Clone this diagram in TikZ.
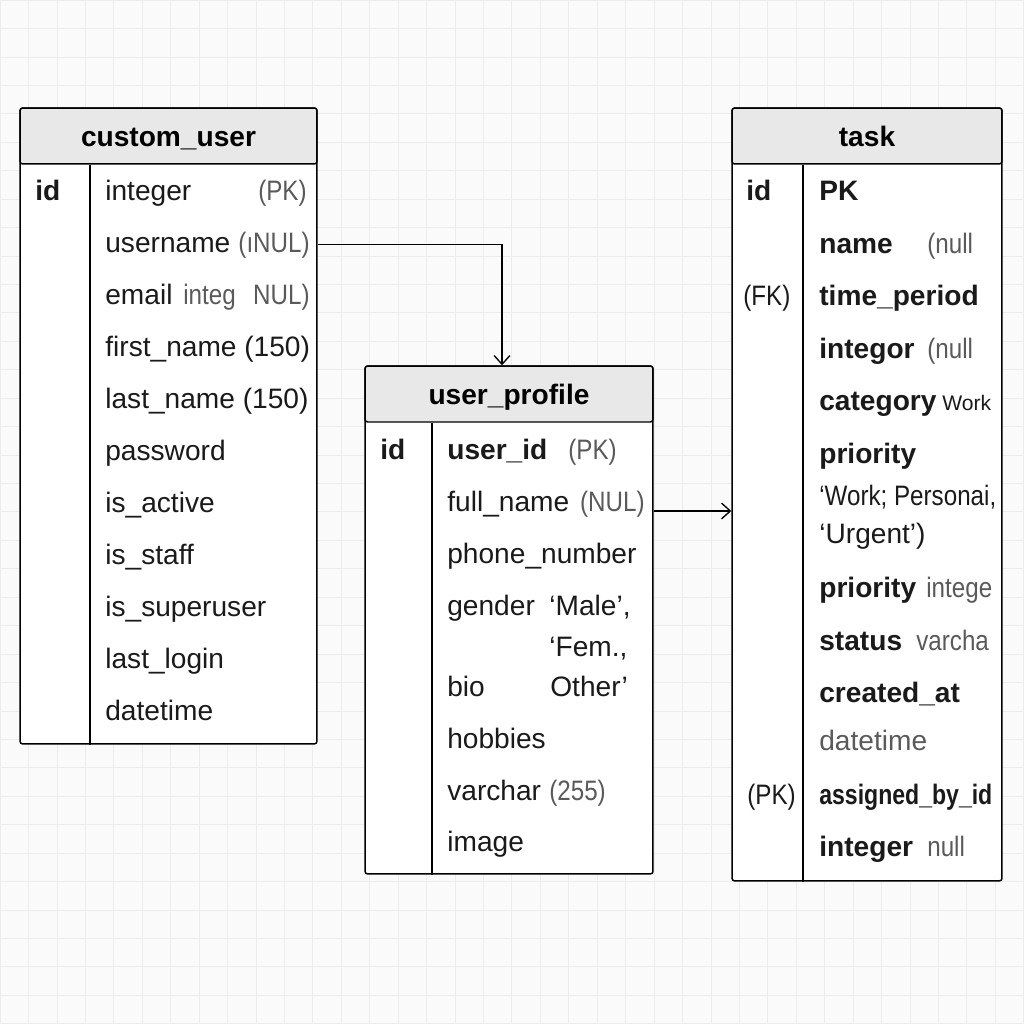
\documentclass[tikz,border=0pt]{standalone}
\usepackage{fontspec}
\setmainfont{Liberation Sans}
\newfontfamily\narrowfont[FakeStretch = 0.86]{Liberation Sans}
\usepackage{graphicx}
\usetikzlibrary{arrows.meta}
\definecolor{bgpaper}{HTML}{FAFAFA}
\definecolor{gridline}{HTML}{ECECEC}
\definecolor{headfill}{HTML}{E8E8E8}
\definecolor{rowink}{HTML}{1A1A1A}
\definecolor{softink}{HTML}{5A5A5A}
\tikzset{
  tablebox/.style = {draw, line width = 0.85pt, fill = white, rounded corners = 1.5pt, inner sep = 0pt},
  tablehead/.style = {tablebox, fill = headfill, minimum height = 1.12cm,
    text height = 12pt, text depth = 0pt, font = \fontsize{16}{19}\selectfont\bfseries},
  rowtext/.style = {anchor = base west, inner sep = 0pt, text = rowink, font = \fontsize{16}{19}\selectfont},
  keytext/.style = {rowtext, font = \fontsize{16}{19}\selectfont\bfseries},
  narrowtext/.style = {rowtext, font = \fontsize{16}{19}\narrowfont},
  softtext/.style = {narrowtext, text = softink},
  link/.style = {line width = 0.75pt, -{Straight Barb[length = 5pt, width = 9pt]}}
}

\begin{document}
\begin{tikzpicture}[x = 0.02cm, y = -0.02cm]
  % paper and grid
  \useasboundingbox (0, 0) rectangle (1024, 1024);
  \fill[bgpaper] (0, 0) rectangle (1024, 1024);
  \draw[gridline, line width = 0.4pt, step = 0.5688cm] (0, 0) grid (1024, 1024);

  % custom_user table
  \node[tablebox, minimum width = 5.94cm, minimum height = 12.72cm] (cu) at (168.5, 426) {};
  \node[tablehead, minimum width = 5.94cm] (cu-head) at (168.5, 136) {custom\_user};
  \draw[line width = 0.85pt] (90, 0 |- cu-head.south) -- (90, 0 |- cu.south);
  \node[keytext] (cu-id) at (35, 200) {id};
  \foreach \txt [count = \i] in {integer, username, email, first\_name (150),
    last\_name (150), password, is\_active, is\_staff, is\_superuser, last\_login, datetime}{
    \node[rowtext] (cu-\i) at (105, 148 + 52*\i) {\txt};
  }
  \node[softtext, anchor = base east] (cu-pk) at (307, 200) {(PK)};
  \node[softtext, anchor = base east] (cu-nul) at (310, 252) {(ıNUL)};
  \node[softtext] (cu-integ) at (183, 304) {integ};
  \node[softtext, anchor = base east] (cu-nul2) at (310, 304) {NUL)};

  % user_profile table
  \node[tablebox, minimum width = 5.76cm, minimum height = 10.16cm] (up) at (509, 620) {};
  \node[tablehead, minimum width = 5.76cm] (up-head) at (509, 394) {user\_profile};
  \draw[line width = 0.85pt] (432, 0 |- up-head.south) -- (432, 0 |- up.south);
  \node[keytext] (up-id) at (380, 459) {id};
  \foreach \y/\txt/\sty [count = \i] in {459/user\_id/keytext, 511/full\_name/rowtext,
    563/phone\_number/rowtext, 615/gender/rowtext, 696/bio/rowtext, 748/hobbies/rowtext,
    800/varchar/rowtext, 851/image/rowtext}{
    \node[\sty] (up-\i) at (447, \y) {\txt};
  }
  \node[softtext] (up-pk) at (568, 459) {(PK)};
  \node[softtext, anchor = base east] (up-nul) at (645, 511) {(NUL)};
  \node[rowtext] (up-male) at (549, 615) {‘Male’,};
  \node[rowtext] (up-fem) at (549, 656) {‘Fem.,};
  \node[rowtext] (up-other) at (550, 696) {Other’};
  \node[softtext] (up-len) at (549, 800) {(255)};

  % task table
  \node[tablebox, minimum width = 5.4cm, minimum height = 15.46cm] (tk) at (867, 494.5) {};
  \node[tablehead, minimum width = 5.4cm] (tk-head) at (867, 136) {task};
  \draw[line width = 0.85pt] (803, 0 |- tk-head.south) -- (803, 0 |- tk.south);
  \node[keytext] (tk-id) at (746, 200) {id};
  \node[narrowtext] (tk-fk) at (743, 305) {(FK)};
  \node[narrowtext] (tk-pk) at (747, 804) {(PK)};
  \foreach \y/\txt/\sty [count = \i] in {200/PK/keytext, 253/name/keytext,
    305/time\_period/keytext, 358/integor/keytext, 410/category/keytext,
    463/priority/keytext, 505/{‘Work; Personai,}/narrowtext,
    543/‘Urgent’)/rowtext, 597/priority/keytext, 650/status/keytext,
    702/created\_at/keytext, 750/{\textcolor{softink}{datetime}}/rowtext,
    804/{\scalebox{0.82}[1]{assigned\_by\_id}}/keytext, 856/integer/keytext}{
    \node[\sty] (tk-\i) at (819, \y) {\txt};
  }
  \node[softtext] (tk-null1) at (927, 253) {(null};
  \node[softtext] (tk-null2) at (927, 358) {(null};
  \node[rowtext, font = \fontsize{12}{14}\selectfont] (tk-work) at (942, 410) {Work};
  \node[softtext] (tk-intege) at (926, 597) {intege};
  \node[softtext] (tk-varcha) at (916, 650) {varcha};
  \node[softtext] (tk-null3) at (927, 856) {null};

  % relations
  \draw[link] (cu.east |- cu-2.center) -| ([xshift = -0.14cm]up.north);
  \draw[link] (up.east |- up-2.base) -- (tk.west |- up-2.base);
\end{tikzpicture}
\end{document}
